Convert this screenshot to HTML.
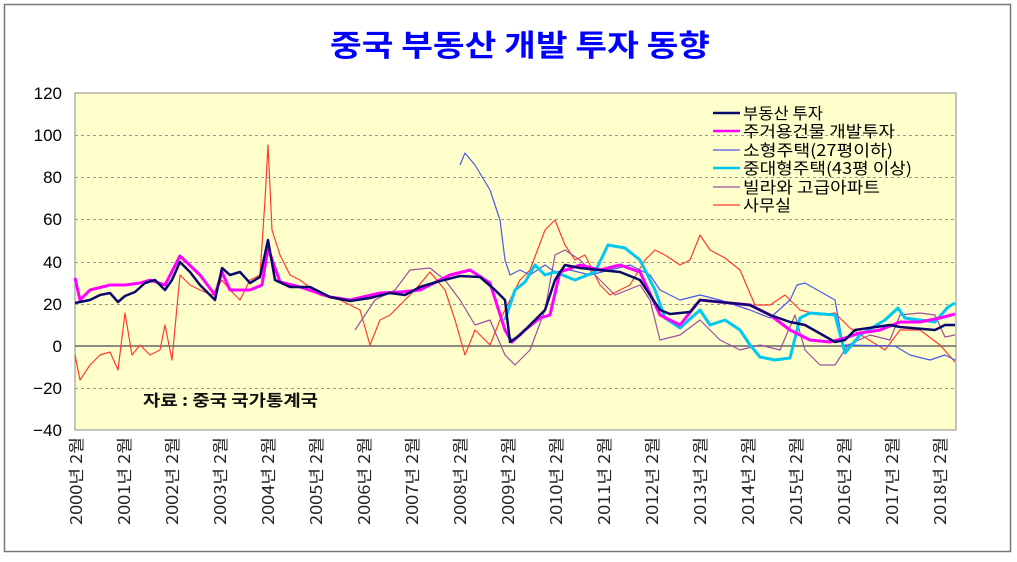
<!DOCTYPE html>
<html><head><meta charset="utf-8"><style>
body{margin:0;background:#fff;width:1017px;height:557px;overflow:hidden}
svg{font-family:"Liberation Sans","Noto Sans CJK KR",sans-serif}
</style></head><body>
<svg width="1017" height="557" viewBox="0 0 1017 557">
<rect x="4.5" y="4.5" width="1006" height="547" fill="#fff" stroke="#777" stroke-width="1.5"/>
<text x="330" y="56" font-size="30" font-weight="bold" fill="#0000ff" textLength="380" lengthAdjust="spacingAndGlyphs" font-family="'Noto Sans CJK KR',sans-serif">중국 부동산 개발 투자 동향</text>
<rect x="75" y="93" width="881" height="337" fill="#ffffcc" stroke="#888"/>
<g stroke="#999" stroke-dasharray="3,3" stroke-width="1">
<line x1="75" x2="956" y1="135.5" y2="135.5"/><line x1="75" x2="956" y1="177.5" y2="177.5"/>
<line x1="75" x2="956" y1="219.5" y2="219.5"/><line x1="75" x2="956" y1="262.5" y2="262.5"/>
<line x1="75" x2="956" y1="304.5" y2="304.5"/><line x1="75" x2="956" y1="388.5" y2="388.5"/>
</g>
<line x1="75" x2="956" y1="346" y2="346" stroke="#666" stroke-width="1.5"/>
<g font-size="17" text-anchor="end" fill="#000">
<text x="62" y="99">120</text><text x="62" y="141">100</text><text x="62" y="183">80</text>
<text x="62" y="225">60</text><text x="62" y="268">40</text><text x="62" y="310">20</text>
<text x="62" y="352">0</text><text x="62" y="394">−20</text><text x="62" y="436">−40</text>
</g>
<g font-size="16" fill="#222" font-family="'Noto Sans CJK KR',sans-serif">
<text transform="translate(82,525) rotate(-90)" textLength="88" lengthAdjust="spacingAndGlyphs">2000년 2월</text>
<text transform="translate(130,525) rotate(-90)" textLength="88" lengthAdjust="spacingAndGlyphs">2001년 2월</text>
<text transform="translate(178,525) rotate(-90)" textLength="88" lengthAdjust="spacingAndGlyphs">2002년 2월</text>
<text transform="translate(226,525) rotate(-90)" textLength="88" lengthAdjust="spacingAndGlyphs">2003년 2월</text>
<text transform="translate(274,525) rotate(-90)" textLength="88" lengthAdjust="spacingAndGlyphs">2004년 2월</text>
<text transform="translate(322,525) rotate(-90)" textLength="88" lengthAdjust="spacingAndGlyphs">2005년 2월</text>
<text transform="translate(370,525) rotate(-90)" textLength="88" lengthAdjust="spacingAndGlyphs">2006년 2월</text>
<text transform="translate(418,525) rotate(-90)" textLength="88" lengthAdjust="spacingAndGlyphs">2007년 2월</text>
<text transform="translate(466,525) rotate(-90)" textLength="88" lengthAdjust="spacingAndGlyphs">2008년 2월</text>
<text transform="translate(514,525) rotate(-90)" textLength="88" lengthAdjust="spacingAndGlyphs">2009년 2월</text>
<text transform="translate(562,525) rotate(-90)" textLength="88" lengthAdjust="spacingAndGlyphs">2010년 2월</text>
<text transform="translate(610,525) rotate(-90)" textLength="88" lengthAdjust="spacingAndGlyphs">2011년 2월</text>
<text transform="translate(658,525) rotate(-90)" textLength="88" lengthAdjust="spacingAndGlyphs">2012년 2월</text>
<text transform="translate(706,525) rotate(-90)" textLength="88" lengthAdjust="spacingAndGlyphs">2013년 2월</text>
<text transform="translate(754,525) rotate(-90)" textLength="88" lengthAdjust="spacingAndGlyphs">2014년 2월</text>
<text transform="translate(802,525) rotate(-90)" textLength="88" lengthAdjust="spacingAndGlyphs">2015년 2월</text>
<text transform="translate(850,525) rotate(-90)" textLength="88" lengthAdjust="spacingAndGlyphs">2016년 2월</text>
<text transform="translate(898,525) rotate(-90)" textLength="88" lengthAdjust="spacingAndGlyphs">2017년 2월</text>
<text transform="translate(946,525) rotate(-90)" textLength="88" lengthAdjust="spacingAndGlyphs">2018년 2월</text>
</g>
<g fill="none" stroke-linejoin="round">
<polyline stroke="#ff3b2f" stroke-width="1.2" points="75,355 80,380 90,365 100,355 110,352 118,370 125,313 132,355 140,345 150,355 160,350 165,325 172,360 180,275 190,285 200,290 212,295 222,280 230,290 240,300 250,280 260,275 265,200 268,145 272,230 280,255 290,275 300,280 320,295 340,300 360,310 370,345 380,320 390,315 400,305 415,290 430,272 445,290 455,320 465,355 475,330 490,345 500,320 510,300 520,280 530,270 545,230 555,220 565,245 575,260 585,255 600,285 610,295 630,285 645,260 655,250 665,255 680,265 690,260 700,235 710,250 725,258 740,270 755,305 770,305 785,295 800,310 820,315 835,313 850,328 885,350 900,330 920,330 940,345 955,362"/>
<polyline stroke="#9b4fa0" stroke-width="1.2" points="355,330 375,300 395,290 410,270 430,268 445,280 460,300 475,325 490,320 505,355 515,365 530,350 545,310 555,255 565,250 580,260 600,280 615,295 640,285 650,300 660,340 680,335 700,320 720,340 740,350 760,345 780,350 795,315 805,350 820,365 835,365 848,345 870,335 890,340 900,315 920,313 935,315 945,337 955,335"/>
<polyline stroke="#4a5be8" stroke-width="1.2" points="460,165 465,153 475,165 490,190 500,220 505,260 510,275 520,270 530,275 545,265 555,272 570,270 590,275 610,270 630,265 650,275 660,290 680,300 700,295 720,300 750,310 770,318 790,300 797,285 805,283 835,300 843,345 895,346 910,355 930,360 945,355 955,360"/>
<polyline stroke="#00c8f0" stroke-width="3" points="505,320 515,290 525,282 535,265 545,275 555,272 575,280 595,272 608,245 625,248 640,260 655,290 665,318 680,328 700,310 710,325 725,320 740,330 750,345 760,357 775,360 790,358 800,318 810,313 835,315 845,353 860,335 885,320 898,308 905,318 935,322 948,307 955,303"/>
<polyline stroke="#ff00ff" stroke-width="3" points="75,278 80,300 90,290 110,285 125,285 140,283 150,280 165,285 180,256 200,275 215,295 222,272 230,290 250,290 262,285 268,248 280,282 300,287 330,297 350,300 380,293 400,292 420,290 450,275 470,270 490,283 505,330 512,342 525,330 540,318 550,315 560,272 580,265 600,270 620,265 640,272 660,315 680,325 700,300 720,302 750,305 770,315 790,330 810,340 830,342 845,338 860,333 880,330 900,322 920,322 940,318 955,314"/>
<polyline stroke="#0a0a6e" stroke-width="2.5" points="75,303 90,300 100,295 110,293 118,302 125,296 135,292 145,283 155,280 165,290 172,280 180,262 190,272 200,285 210,295 215,300 222,268 230,275 240,272 250,283 260,277 268,240 275,280 290,287 310,287 330,297 350,301 370,298 390,293 405,295 420,287 440,281 460,276 480,277 495,290 505,300 510,342 520,335 530,325 545,310 555,280 565,265 580,268 600,270 620,272 640,280 650,295 660,310 670,314 690,312 700,300 720,302 750,305 770,315 790,322 805,325 835,342 845,340 855,330 890,325 900,327 935,330 945,325 955,325"/>
</g>
<g font-size="16" fill="#000" font-family="'Noto Sans CJK KR',sans-serif">
<line x1="713" x2="740" y1="113" y2="113" stroke="#0a0a6e" stroke-width="2.5"/><text x="743" y="119" textLength="80" lengthAdjust="spacingAndGlyphs">부동산 투자</text>
<line x1="713" x2="740" y1="131" y2="131" stroke="#ff00ff" stroke-width="2.5"/><text x="743" y="137" textLength="152" lengthAdjust="spacingAndGlyphs">주거용건물 개발투자</text>
<line x1="713" x2="740" y1="150" y2="150" stroke="#4a5be8" stroke-width="1.2"/><text x="743" y="156" textLength="150" lengthAdjust="spacingAndGlyphs">소형주택(27평이하)</text>
<line x1="713" x2="740" y1="168" y2="168" stroke="#00c8f0" stroke-width="2.5"/><text x="743" y="174" textLength="169" lengthAdjust="spacingAndGlyphs">중대형주택(43평 이상)</text>
<line x1="713" x2="740" y1="187" y2="187" stroke="#9b4fa0" stroke-width="1.2"/><text x="743" y="193" textLength="137" lengthAdjust="spacingAndGlyphs">빌라와 고급아파트</text>
<line x1="713" x2="740" y1="205" y2="205" stroke="#ff3b2f" stroke-width="1.2"/><text x="743" y="211" textLength="48" lengthAdjust="spacingAndGlyphs">사무실</text>
</g>
<text x="143" y="406" font-size="16" font-weight="bold" fill="#111" textLength="175" lengthAdjust="spacingAndGlyphs" font-family="'Noto Sans CJK KR',sans-serif">자료 : 중국 국가통계국</text>
</svg>
</body></html>
